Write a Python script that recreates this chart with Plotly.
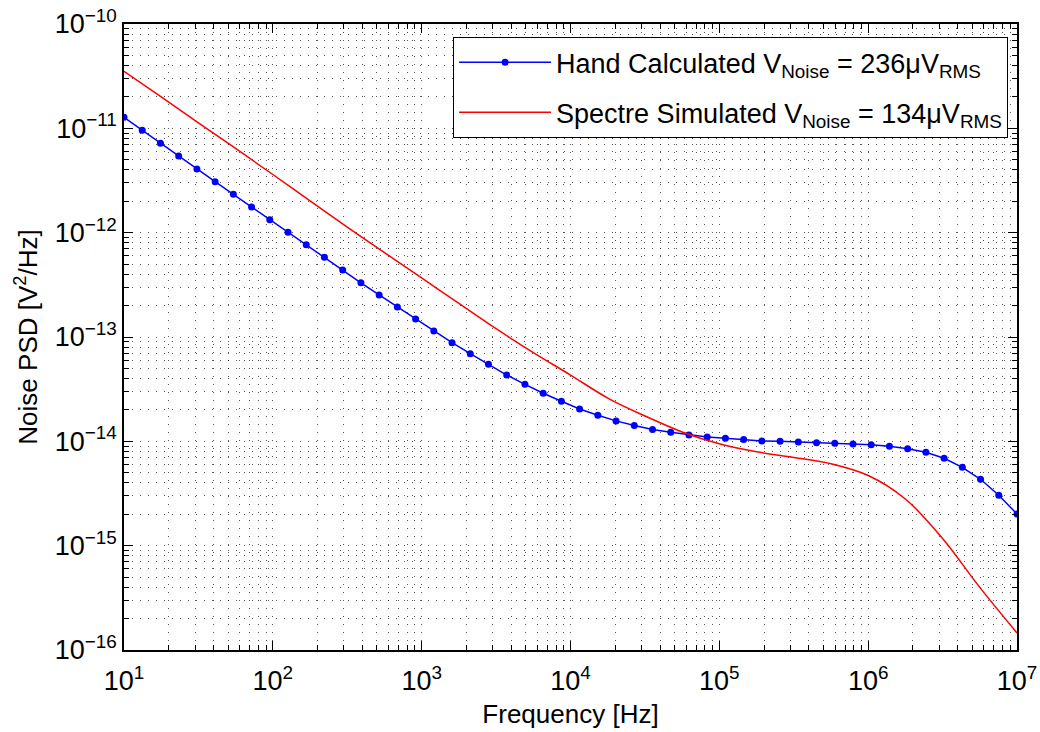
import numpy as np
import plotly.graph_objects as go

# Hand calculated: 50 log-spaced points from 10 Hz to 10 MHz
hand_freq = np.logspace(1, 7, 50)
hand_psd = [
    1.276e-11, 9.57e-12, 7.19e-12, 5.43e-12, 4.08e-12, 3.08e-12, 2.33e-12, 1.76e-12, 1.33e-12, 1.008e-12,
    7.67e-13, 5.80e-13, 4.39e-13, 3.31e-13, 2.53e-13, 1.94e-13, 1.49e-13, 1.14e-13, 8.82e-14, 6.92e-14,
    5.48e-14, 4.32e-14, 3.52e-14, 2.89e-14, 2.42e-14, 2.04e-14, 1.78e-14, 1.57e-14, 1.42e-14, 1.30e-14,
    1.22e-14, 1.15e-14, 1.10e-14, 1.07e-14, 1.04e-14, 1.01e-14, 1.00e-14, 9.85e-15, 9.70e-15, 9.57e-15,
    9.43e-15, 9.28e-15, 8.96e-15, 8.50e-15, 7.85e-15, 6.88e-15, 5.64e-15, 4.33e-15, 3.04e-15, 2.01e-15,
]

# Spectre simulated: quarter-decade samples
sim_freq = np.logspace(1, 7, 25)
sim_psd = [
    3.52e-11, 2.00e-11, 1.13e-11, 6.42e-12, 3.61e-12, 2.02e-12, 1.13e-12, 6.44e-13, 3.68e-13, 2.10e-13,
    1.20e-13, 7.10e-14, 4.32e-14, 2.60e-14, 1.75e-14, 1.23e-14, 9.47e-15, 7.93e-15, 7.00e-15, 6.09e-15,
    4.70e-15, 2.80e-15, 1.17e-15, 3.98e-16, 1.455e-16,
]

hand_name = "Hand Calculated V<sub>Noise</sub> = 236μV<sub>RMS</sub>"
sim_name = "Spectre Simulated V<sub>Noise</sub> = 134μV<sub>RMS</sub>"

x_major = [1e1, 1e2, 1e3, 1e4, 1e5, 1e6, 1e7]
x_labels = ["10<sup>1</sup>", "10<sup>2</sup>", "10<sup>3</sup>", "10<sup>4</sup>",
            "10<sup>5</sup>", "10<sup>6</sup>", "10<sup>7</sup>"]
y_major = [1e-16, 1e-15, 1e-14, 1e-13, 1e-12, 1e-11, 1e-10]
y_labels = ["10<sup>−16</sup>", "10<sup>−15</sup>", "10<sup>−14</sup>", "10<sup>−13</sup>",
            "10<sup>−12</sup>", "10<sup>−11</sup>", "10<sup>−10</sup>"]

x_minor = [m * 10 ** e for e in range(1, 7) for m in range(2, 10)]
y_minor = [m * 10.0 ** e for e in range(-16, -10) for m in range(2, 10)]

FONT = "Liberation Sans, Arial, Helvetica, sans-serif"
GRID = "rgba(0,0,0,0.65)"
DASH = "1px,7px"

fig = go.Figure()
fig.add_trace(go.Scatter(
    x=hand_freq, y=hand_psd, name=hand_name, mode="lines+markers", legendgroup="a",
    line=dict(color="#0000ff", width=1.5),
    marker=dict(color="#0000ff", size=7),
))
fig.add_trace(go.Scatter(
    x=sim_freq, y=sim_psd, name=sim_name, mode="lines", legendgroup="b",
    line=dict(color="#ff0000", width=1.5, shape="spline", smoothing=1.0),
))

common = dict(
    showline=True, linecolor="black", linewidth=1.5, mirror="allticks",
    ticks="inside", ticklen=9, tickwidth=1, tickcolor="black",
    showgrid=True, gridcolor=GRID, gridwidth=1, griddash=DASH,
    zeroline=False, automargin=False,
    tickfont=dict(family=FONT, size=27, color="black"),
)

fig.update_xaxes(
    type="log", range=[1, 7], tickvals=x_major, ticktext=x_labels,
    ticklabelstandoff=6,
    minor=dict(tickvals=x_minor, ticks="inside", ticklen=5, tickcolor="black",
               showgrid=True, gridcolor=GRID, gridwidth=1, griddash=DASH),
    title=dict(text="Frequency [Hz]", font=dict(family=FONT, size=26, color="black"), standoff=10),
    **common,
)
fig.update_yaxes(
    type="log", range=[-16, -10], tickvals=y_major, ticktext=y_labels,
    ticklabelstandoff=0,
    minor=dict(tickvals=y_minor, ticks="inside", ticklen=5, tickcolor="black",
               showgrid=True, gridcolor=GRID, gridwidth=1, griddash=DASH),
    title=dict(text="Noise PSD [V<sup>2</sup>/Hz]", font=dict(family=FONT, size=26, color="black"), standoff=10),
    **common,
)

fig.update_layout(
    width=1040, height=732,
    margin=dict(l=124, r=23, t=24, b=82),
    paper_bgcolor="white", plot_bgcolor="white",
    font=dict(family=FONT, color="black"),
    showlegend=True,
    legend=dict(
        x=0.99, y=0.979, xanchor="right", yanchor="top",
        bgcolor="white", bordercolor="black", borderwidth=1,
        font=dict(family=FONT, size=27, color="black"),
        itemwidth=92, tracegroupgap=12,
    ),
)

fig.write_html("out.html")
